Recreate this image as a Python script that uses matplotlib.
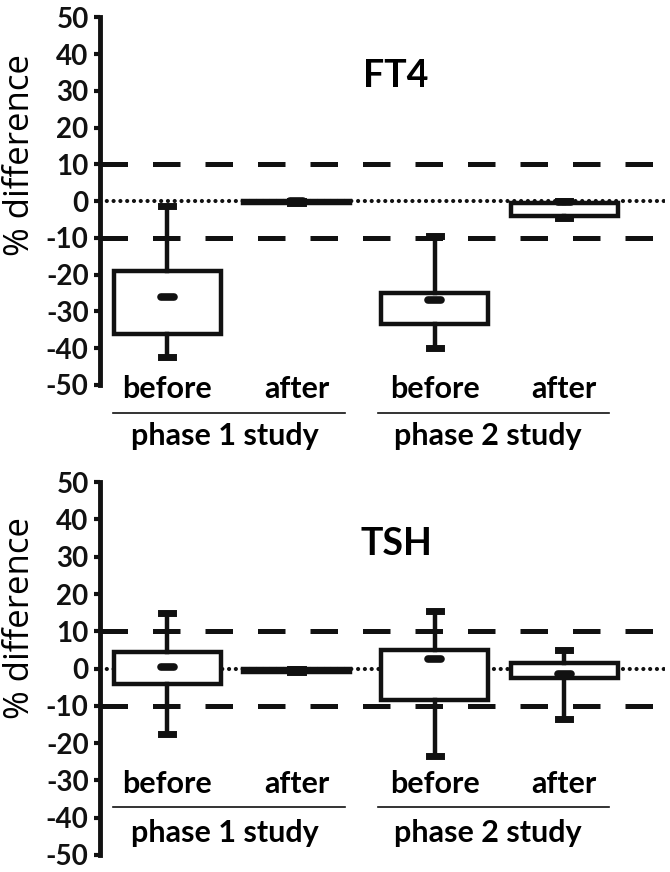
import matplotlib
matplotlib.use("Agg")
import matplotlib.pyplot as plt

plt.rcParams['font.family'] = ['Lato', 'DejaVu Sans']

conditions = ["before", "after", "before", "after"]
groups = ["phase 1 study", "phase 2 study"]
yticks = [50, 40, 30, 20, 10, 0, -10, -20, -30, -40, -50]

# FT4: whisker low, q1, median, q3, whisker high
ft4_wlo = [-42.5, -0.6, -40.0, -4.5]
ft4_q1 = [-36.0, -0.6, -33.5, -4.0]
ft4_med = [-26.0, 0.0, -27.0, -0.3]
ft4_q3 = [-19.0, 0.0, -25.0, -0.5]
ft4_whi = [-1.3, 0.0, -9.5, 0.0]

# TSH
tsh_wlo = [-17.6, -0.8, -23.4, -13.6]
tsh_q1 = [-4.0, -0.8, -8.4, -2.5]
tsh_med = [0.4, -0.5, 2.6, -1.4]
tsh_q3 = [4.5, -0.2, 5.1, 1.5]
tsh_whi = [15.0, -0.2, 15.5, 5.0]

positions = [0.675, 1.965, 3.345, 4.64]
limit = 10

fig = plt.figure(figsize=(6.7, 8.72), dpi=100)


def panel(rect, title, wlo, q1, med, q3, whi, lab_y, line_y, grp_y, title_y, ylab_y):
    ax = fig.add_axes(rect)
    ax.set_xlim(0, 5.65)
    ax.set_ylim(-50, 50)
    # reference lines
    ax.axhline(limit, color='#111111', lw=3.6, ls=(0, (5.5, 5.0)), zorder=1)
    ax.axhline(-limit, color='#111111', lw=3.6, ls=(0, (5.5, 5.0)), zorder=1)
    ax.axhline(0, color='#111111', lw=3.0, ls=(0, (0.01, 1.62)), dash_capstyle='round', zorder=1)
    stats = []
    for i in range(len(med)):
        stats.append(dict(whislo=wlo[i], q1=q1[i], med=med[i], q3=q3[i], whishi=whi[i], fliers=[]))
    art = ax.bxp(stats, positions=positions, widths=1.07, patch_artist=True, showfliers=False,
                 boxprops=dict(facecolor='white', edgecolor='#111111', linewidth=3.2),
                 whiskerprops=dict(color='#111111', linewidth=3.2),
                 capprops=dict(color='#111111', linewidth=5.0),
                 medianprops=dict(color='#111111', linewidth=5.5, solid_capstyle='round'),
                 capwidths=0.12, manage_ticks=False, zorder=3)
    # medians drawn as short dashes
    for line, p in zip(art['medians'], positions):
        line.set_xdata([p - 0.065, p + 0.065])
    ax.set_xticks([])
    ax.set_yticks(yticks)
    ax.set_yticklabels([str(t) for t in yticks], fontsize=20, fontweight='bold')
    ax.tick_params(axis='y', direction='out', length=4, width=3, pad=4, colors='#111111')
    for s in ['top', 'right', 'bottom']:
        ax.spines[s].set_visible(False)
    ax.spines['left'].set_linewidth(3.5)
    ax.spines['left'].set_color('#111111')
    ax.set_facecolor('none')
    for c, p in zip(conditions, positions):
        ax.text(p, lab_y, c, ha='center', va='center', fontsize=22, fontweight='bold', clip_on=False)
    ax.plot([0.13, 2.45], [line_y, line_y], color='#111111', lw=1.2, clip_on=False)
    ax.plot([2.78, 5.09], [line_y, line_y], color='#111111', lw=1.2, clip_on=False)
    ax.text(1.25, grp_y, groups[0], ha='center', va='center', fontsize=22, fontweight='bold', clip_on=False)
    ax.text(3.88, grp_y, groups[1], ha='center', va='center', fontsize=22, fontweight='bold', clip_on=False)
    ax.text(2.96, title_y, title, ha='center', va='center', fontsize=27, fontweight='bold')
    ax.text(-0.80, ylab_y, "% difference", rotation=90, ha='center', va='center', fontsize=25,
            family=['Open Sans', 'DejaVu Sans'], clip_on=False)
    return ax


panel([0.149, 0.5585, 0.844, 0.4215], "FT4", ft4_wlo, ft4_q1, ft4_med, ft4_q3, ft4_whi,
      -51.0, -57.5, -64.0, 34.0, 12.5)
panel([0.149, 0.0195, 0.844, 0.4275], "TSH", tsh_wlo, tsh_q1, tsh_med, tsh_q3, tsh_whi,
      -31.0, -37.0, -44.0, 33.5, 13.5)

fig.savefig("out.png", dpi=100, facecolor='white')
